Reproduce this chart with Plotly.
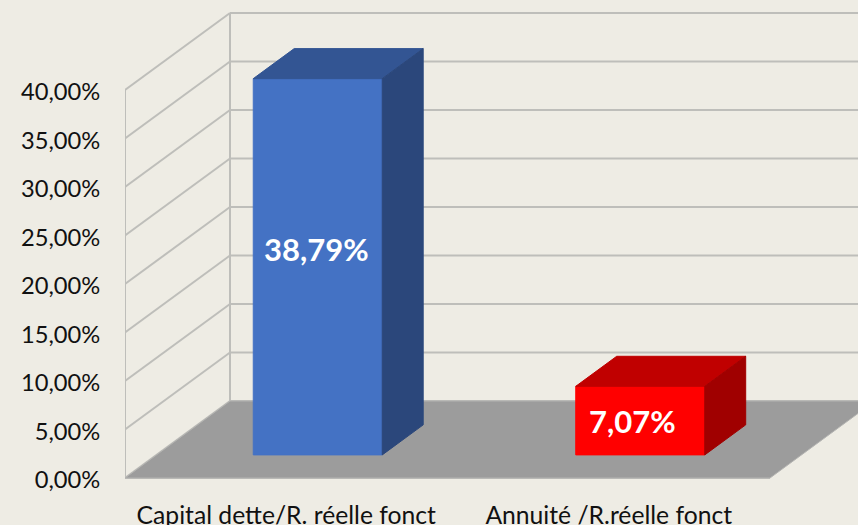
import plotly.graph_objects as go

categories = ["Capital dette/R. réelle fonct", "Annuité /R.réelle fonct"]
values = [38.79, 7.07]
value_labels = ["38,79%", "7,07%"]
y_ticks = [0, 5, 10, 15, 20, 25, 30, 35, 40]
y_tick_labels = ["0,00%", "5,00%", "10,00%", "15,00%", "20,00%", "25,00%", "30,00%", "35,00%", "40,00%"]

front_colors = ["#4472C4", "#FF0000"]
top_colors = ["#335593", "#C00000"]
side_colors = ["#2B477B", "#A00000"]
label_shifts = [(-1, 18), (-8, 0)]

W, H = 858, 525
L, B, T = 125, 37, 0
PX_X = 322.5   # px per category
PX_Y = 9.7     # px per percent
DX = 105 / PX_X   # full depth, in x units
DY = 77 / PX_Y    # full depth, in y units
BAR_W = 0.4
D0, D1 = 0.3, 0.69
BG = "#EEECE4"
GRID = "#BEBEBA"
TICK_NUDGE = 0.2  # label placement only: ticks themselves are invisible
XMAX = (W - L) / PX_X
YMIN = -10 / PX_Y
YMAX = YMIN + (H - B - T) / PX_Y

fig = go.Figure()


def poly(xs, ys, color, line=None):
    fig.add_trace(go.Scatter(
        x=xs + xs[:1], y=ys + ys[:1], mode="lines", fill="toself", fillcolor=color,
        line=dict(color=line or color, width=1), hoverinfo="skip", showlegend=False,
        cliponaxis=True))


def segment(xs, ys):
    fig.add_trace(go.Scatter(
        x=xs, y=ys, mode="lines", line=dict(color=GRID, width=2),
        hoverinfo="skip", showlegend=False, cliponaxis=False))


# walls
for t in y_ticks:
    segment([0, DX], [t, t + DY])
    segment([DX, XMAX], [t + DY, t + DY])
segment([0, 0], [0, y_ticks[-1]])
segment([DX, DX], [DY, y_ticks[-1] + DY])
segment([0, len(categories)], [0, 0])

# floor
poly([0, len(categories), len(categories) + DX, DX], [0, 0, DY, DY], "#9C9C9C", "#B4B4B2")

# bars
for i, v in enumerate(values):
    x0 = i + 0.5 - BAR_W / 2
    x1 = x0 + BAR_W
    fx0, fx1 = x0 + D0 * DX, x1 + D0 * DX
    bx0, bx1 = x0 + D1 * DX, x1 + D1 * DX
    fy, by = D0 * DY, D1 * DY
    poly([fx0, fx1, fx1, fx0], [fy, fy, fy + v, fy + v], front_colors[i])
    poly([fx0, fx1, bx1, bx0], [fy + v, fy + v, by + v, by + v], top_colors[i])
    poly([fx1, bx1, bx1, fx1], [fy, by, by + v, fy + v], side_colors[i])
    fig.add_annotation(
        x=(fx0 + fx1) / 2, y=fy + v / 2, text=value_labels[i], showarrow=False,
        xref="x", yref="y", xshift=label_shifts[i][0], yshift=label_shifts[i][1],
        font=dict(family="Lato", size=31, color="white", weight="bold"))

fig.update_layout(
    width=W, height=H, autosize=False,
    margin=dict(l=L, r=0, t=T, b=B, pad=0, autoexpand=False),
    paper_bgcolor=BG, plot_bgcolor=BG,
    showlegend=False,
    font=dict(family="Lato", color="#111111"),
    xaxis=dict(range=[0, XMAX], tickmode="array", tickvals=[0.5, 1.5], ticktext=categories,
               automargin=False,
               showgrid=False, zeroline=False, showline=False, ticks="outside", ticklen=5,
               tickcolor="rgba(0,0,0,0)", tickfont=dict(size=24.7, family="Lato", color="#111111"), tickangle=0),
    yaxis=dict(range=[YMIN, YMAX], tickmode="array", tickvals=[t - TICK_NUDGE for t in y_ticks], ticktext=y_tick_labels,
               automargin=False,
               showgrid=False, zeroline=False, showline=False, ticks="outside", ticklen=19,
               tickcolor="rgba(0,0,0,0)", tickfont=dict(size=23.7, family="Lato", color="#111111")),
)

fig.write_html("out.html", config=dict(displayModeBar=False),
               post_script="document.body.style.margin='0';document.body.style.background='%s';document.body.style.overflow='hidden';" % BG)
